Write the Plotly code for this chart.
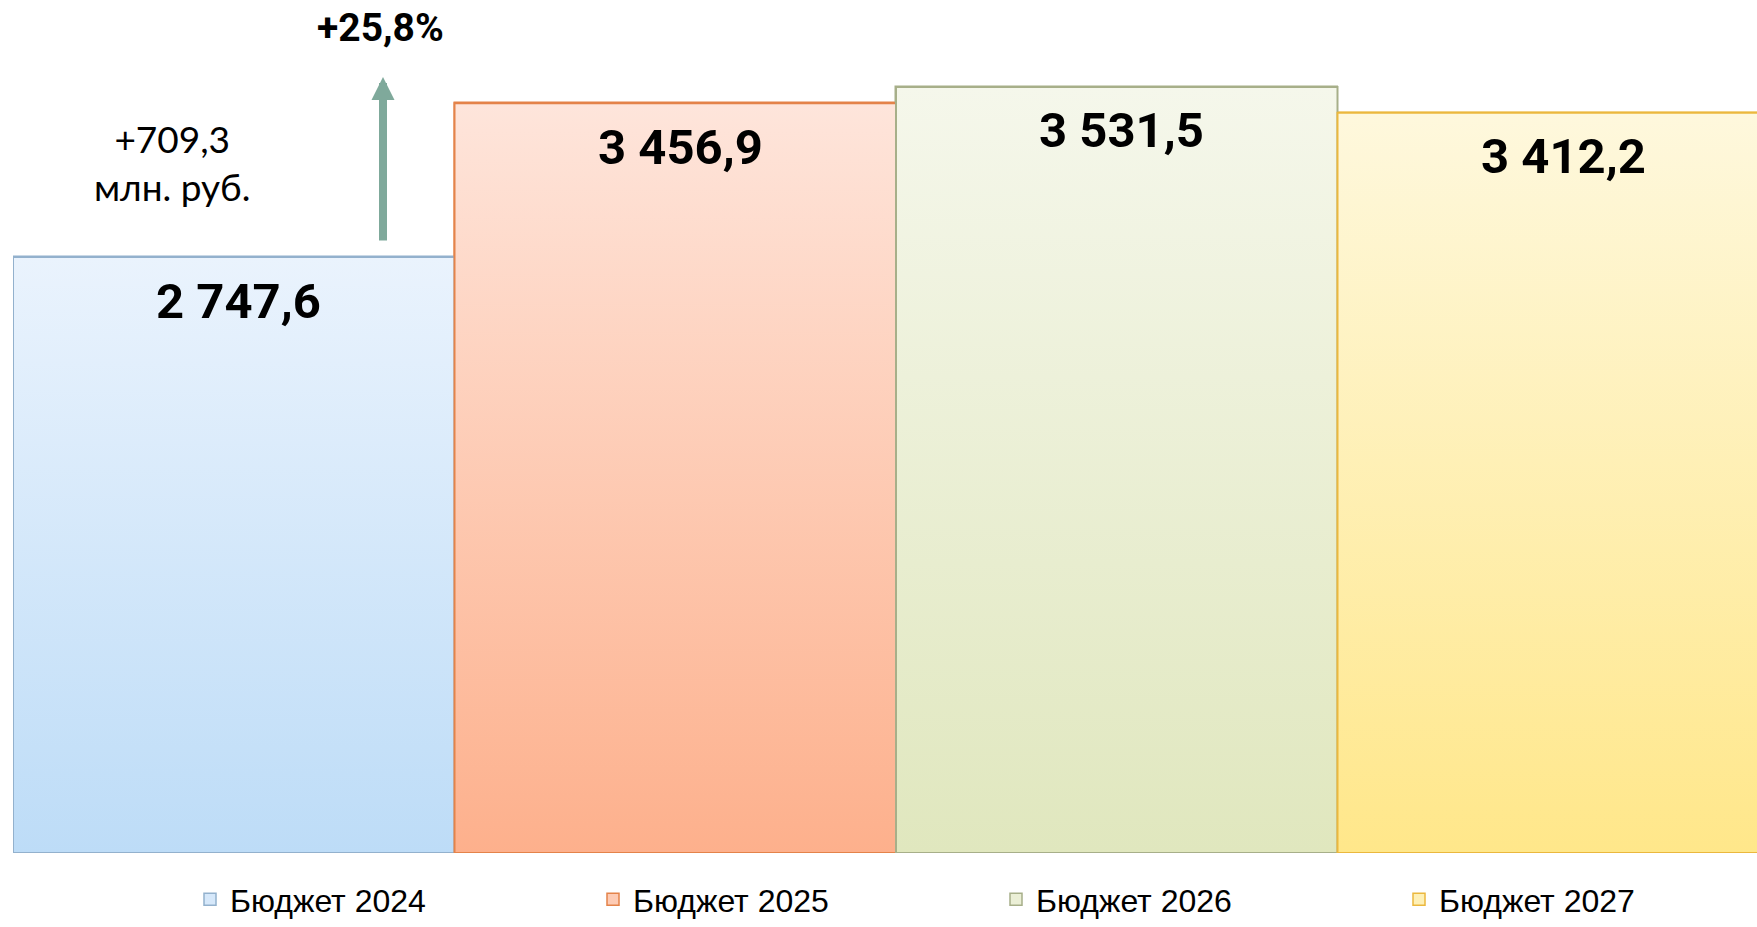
import plotly.graph_objects as go

# ---- data ----
categories = ["Бюджет 2024", "Бюджет 2025", "Бюджет 2026", "Бюджет 2027"]
values = [2747.6, 3456.9, 3531.5, 3412.2]
value_labels = ["2 747,6", "3 456,9", "3 531,5", "3 412,2"]
growth_abs_label = "+709,3<br>млн. руб."
growth_pct_label = "+25,8%"

# ---- styles ----
top_colors = ["#EAF3FD", "#FEE5DB", "#F5F7EB", "#FEF8DD"]
bottom_colors = ["#BDDCF7", "#FDB08C", "#E0E7BE", "#FFE78A"]
border_colors = ["#93B1CD", "#E4834A", "#A7AF89", "#EBB83E"]
legend_colors = ["#D6E8FA", "#FDCBB4", "#EBEFD6", "#FEF0B6"]

W, H = 1757, 927
ML, MR, MT, MB = 13, 0, 0, 74
PW, PH = W - ML - MR, H - MT - MB
BAR_PX = 441.5
X0 = -0.5
X1 = X0 + PW / BAR_PX
YMAX = PH / 0.21691


def px_x(px):
    return X0 + (px - ML) / BAR_PX


def px_y(py):
    return (PH + MT - py) / PH * YMAX


fig = go.Figure()

# bars (solid, used for legend; covered by gradient fills)
for i, (c, v) in enumerate(zip(categories, values)):
    fig.add_trace(go.Bar(
        x=[i], y=[v], name=c, width=1,
        marker=dict(color=legend_colors[i], line=dict(color=border_colors[i], width=1.5)),
        showlegend=True, hoverinfo="skip",
    ))

# gradient overlays
for i, v in enumerate(values):
    fig.add_trace(go.Scatter(
        x=[i - 0.5, i + 0.5, i + 0.5, i - 0.5, i - 0.5],
        y=[0, 0, v, v, 0],
        mode="lines", fill="toself",
        fillgradient=dict(type="vertical",
                          colorscale=[[0, bottom_colors[i]], [1, top_colors[i]]]),
        line=dict(color=border_colors[i], width=2),
        showlegend=False, hoverinfo="skip",
    ))

annotations = []
for i, (v, lab) in enumerate(zip(values, value_labels)):
    annotations.append(dict(
        x=i, y=v, text=lab, showarrow=False, yshift=-44, xshift=5,
        yanchor="middle", xanchor="center",
        font=dict(family="Roboto", size=49, color="#000000", weight="bold"),
    ))

annotations.append(dict(
    x=px_x(172), y=px_y(162), text=growth_abs_label, showarrow=False,
    xanchor="center", yanchor="middle", align="center",
    font=dict(family="Lato", size=37, color="#000000"),
))
annotations.append(dict(
    x=px_x(380), y=px_y(28), text="<b>" + growth_pct_label + "</b>", showarrow=False,
    xanchor="center", yanchor="middle",
    font=dict(family="Roboto", size=39, color="#000000"),
))
annotations.append(dict(
    x=px_x(383), y=px_y(77), text="", showarrow=True,
    ax=0, ay=165, arrowhead=2, arrowwidth=8, arrowsize=0.575,
    arrowcolor="#7FA99B", standoff=0,
))

fig.update_layout(
    width=W, height=H,
    margin=dict(l=ML, r=MR, t=MT, b=MB, pad=0, autoexpand=False),
    paper_bgcolor="white", plot_bgcolor="white",
    barmode="overlay", bargap=0,
    xaxis=dict(range=[X0, X1], visible=False, fixedrange=True),
    yaxis=dict(range=[0, YMAX], visible=False, fixedrange=True),
    showlegend=True,
    legend=dict(
        orientation="h", x=(190 - ML) / PW, xanchor="left",
        y=(PH + MT - 927) / PH, yanchor="bottom",
        entrywidth=358, entrywidthmode="pixels",
        font=dict(family="Liberation Sans", size=32, color="#000000"),
        bgcolor="rgba(0,0,0,0)", traceorder="normal",
    ),
    annotations=annotations,
)

fig.write_html("out.html", config={"displayModeBar": False},
               post_script="document.body.style.margin='0px';")
